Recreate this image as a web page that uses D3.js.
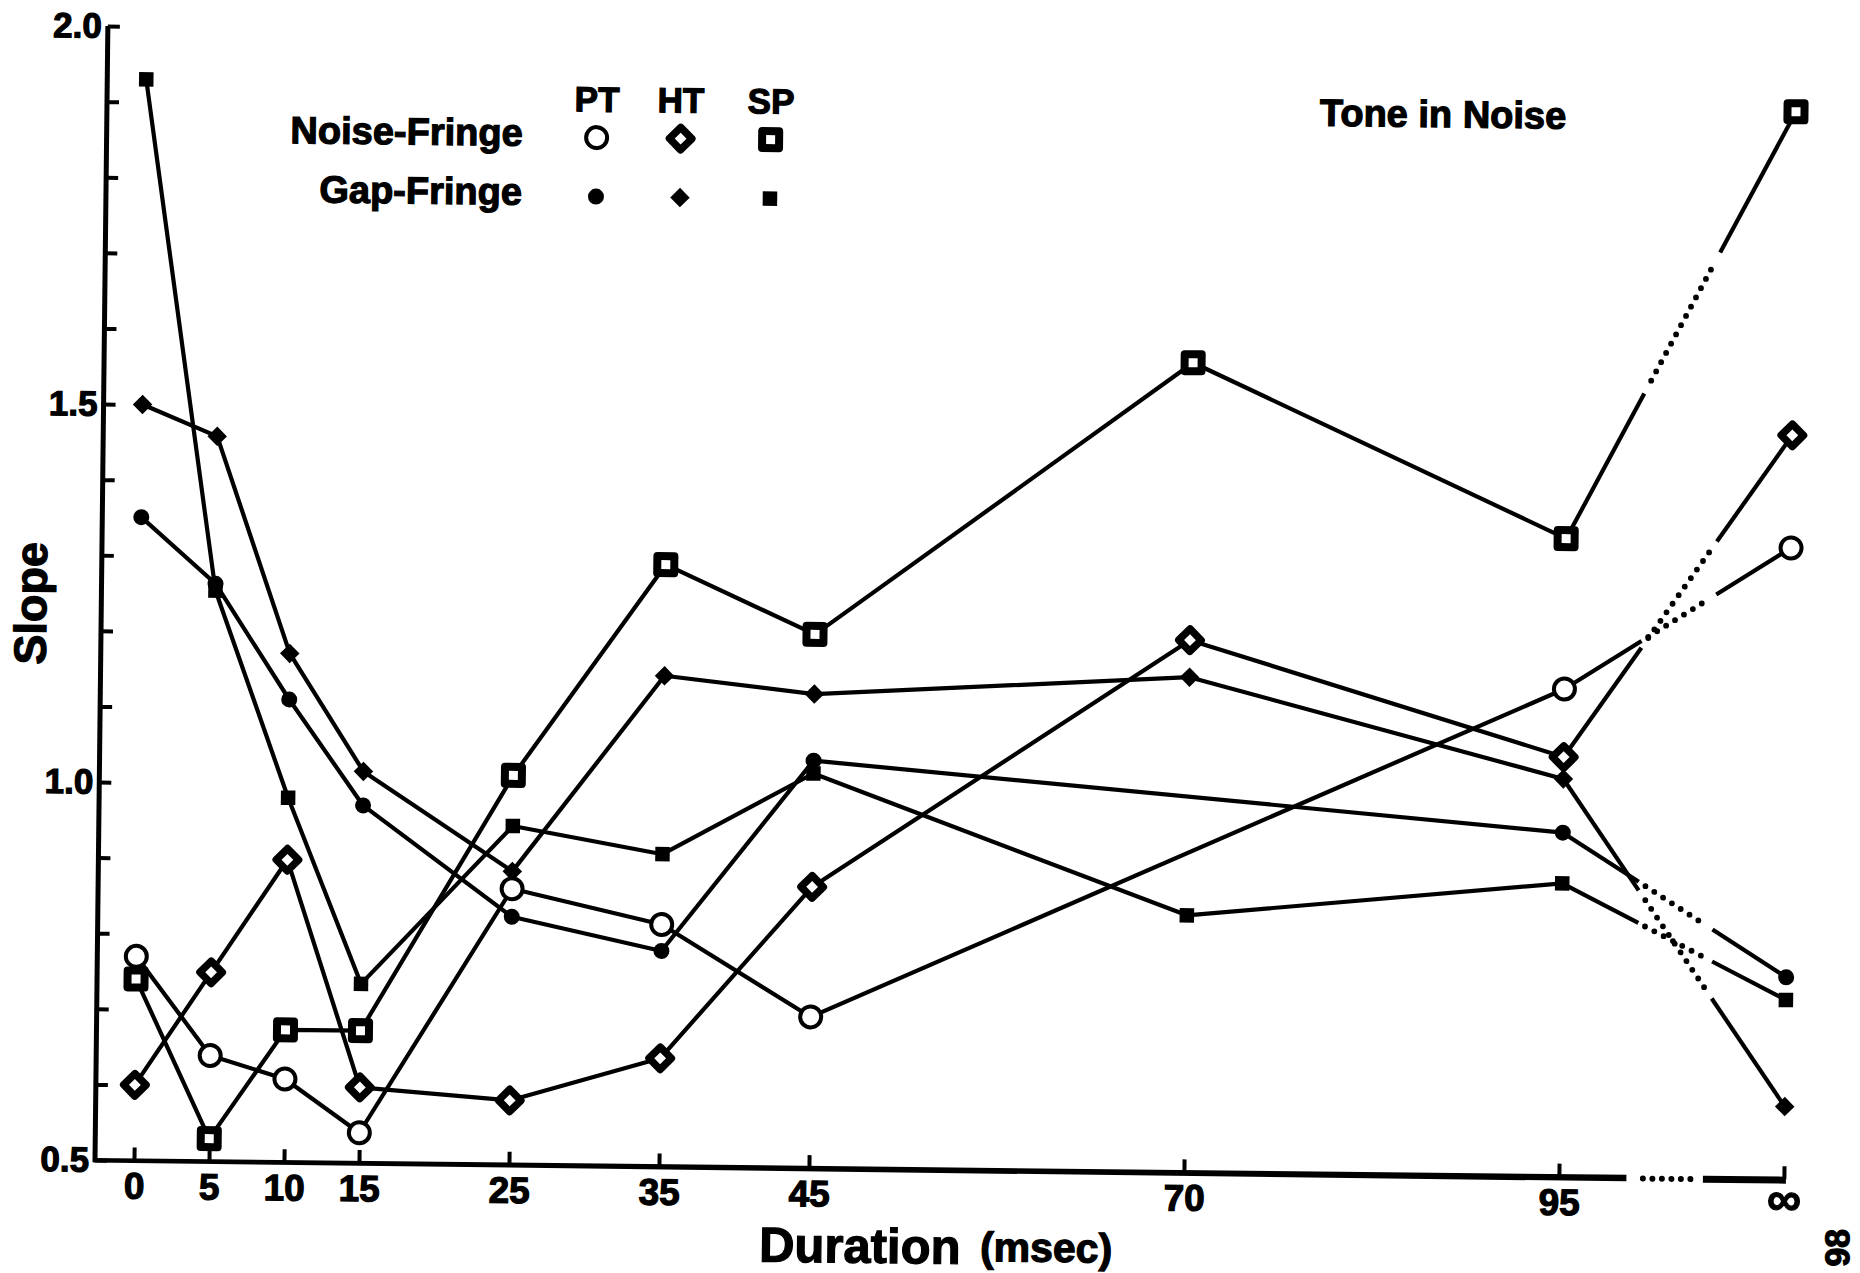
<!DOCTYPE html>
<html>
<head>
<meta charset="utf-8">
<script src="https://cdn.jsdelivr.net/npm/d3@7"></script>
<style>
  html, body { margin: 0; padding: 0; background: #fff; }
  svg { display: block; }
  text { font-family: "Liberation Sans", Arial, Helvetica, sans-serif; font-weight: bold; fill: #000;
         stroke: #000; stroke-width: 1.2px; paint-order: stroke; }
</style>
</head>
<body>
<script>
// Durations (msec); the last one is the unbounded (infinite) duration
const durations = ["0", "5", "10", "15", "25", "35", "45", "70", "95", "∞"];

// Slopes, noise-fringe conditions (open symbols)
const noisePT = [0.77, 0.64, 0.61, 0.54, 0.865, 0.82, 0.70, null, 1.145, 1.335];
const noiseHT = [0.60, 0.75, 0.90, 0.60, 0.585, 0.643, 0.872, 1.204, 1.055, 1.484];
const noiseSP = [0.74, 0.53, 0.675, 0.675, 1.015, 1.296, 1.206, 1.571, 1.344, 1.912];

// Slopes, gap-fringe conditions (filled symbols)
const gapPT = [1.351, 1.264, 1.112, 0.973, 0.828, 0.785, 1.039, null, 0.955, 0.767];
const gapHT = [1.50, 1.459, 1.173, 1.018, 0.888, 1.149, 1.127, 1.155, 1.026, 0.596];
const gapSP = [1.930, 1.255, 0.982, 0.737, 0.948, 0.913, 1.022, 0.840, 0.888, 0.737];

// Axis ticks
const yMinorTicks = [0.5, 0.6, 0.7, 0.8, 0.9, 1.0, 1.1, 1.2, 1.3, 1.4, 1.5, 1.6, 1.7, 1.8, 1.9, 2.0];
const yLabelTicks = [0.5, 1.0, 1.5, 2.0];

// Legend
const legendColumns = ["PT", "HT", "SP"];
const legendRows = ["Noise-Fringe", "Gap-Fringe"];

const W = 1860, H = 1273;
const INF_POS = 110;          // axis position used for the "∞" duration
const TILT = 0.65;            // the whole figure sits slightly askew

const svg = d3.select("body").append("svg").attr("width", W).attr("height", H);
svg.append("rect").attr("width", W).attr("height", H).attr("fill", "#fff");

const ox = 95, oy = 1160;
const g = svg.append("g").attr("transform", `rotate(${TILT},${ox},${oy})`);

const x = d3.scaleLinear().domain([0, INF_POS]).range([134, 134 + 15 * INF_POS]);
const y = d3.scaleLinear().domain([0.5, 2.0]).range([oy, 26]);
const xOf = d => d === "∞" ? INF_POS : +d;

// ---------- Y axis ----------
const yAxisTicks = g.append("g").attr("transform", `translate(${ox},0)`)
  .call(d3.axisRight(y).tickValues(yMinorTicks).tickSize(12).tickSizeOuter(0).tickFormat(""));
yAxisTicks.select(".domain").remove();
yAxisTicks.selectAll(".tick line").attr("stroke", "#000").attr("stroke-width", 4);

const yLabels = g.append("g").attr("transform", `translate(${ox},0)`)
  .call(d3.axisLeft(y).tickValues(yLabelTicks).tickSize(0).tickPadding(6).tickFormat(d3.format(".1f")));
yLabels.select(".domain").remove();
yLabels.selectAll("text").attr("font-size", 35).attr("font-family", null).attr("fill", "#000");

// ---------- X axis ----------
const xNumeric = durations.map(xOf);
const xAxisTicks = g.append("g").attr("transform", `translate(0,${oy})`)
  .call(d3.axisTop(x).tickValues(xNumeric).tickSize(13).tickSizeOuter(0).tickFormat(""));
xAxisTicks.select(".domain").remove();
xAxisTicks.selectAll(".tick line").attr("stroke", "#000").attr("stroke-width", 4);

const xLabels = g.append("g").attr("transform", `translate(0,${oy})`)
  .call(d3.axisBottom(x).tickValues(xNumeric).tickSize(0).tickPadding(12)
        .tickFormat((d, i) => durations[i]));
xLabels.select(".domain").remove();
xLabels.selectAll("text").attr("font-size", 37).attr("font-family", null).attr("fill", "#000");
xLabels.selectAll("text").filter(d => d === INF_POS).attr("font-size", 48).attr("dy", "0.5em");

// axis frame: y-axis down to the corner, x-axis broken before infinity
g.append("line")
  .attr("x1", ox).attr("x2", ox).attr("y1", y(2.0)).attr("y2", oy + 2)
  .attr("stroke", "#000").attr("stroke-width", 5);
// x-axis ink gets heavier toward the right
const xa = x(99.5);
g.append("path")
  .attr("d", `M${ox - 2},${oy - 2} L${xa},${oy - 2.5} L${xa},${oy + 4} L${ox - 2},${oy + 2.5} Z`)
  .attr("fill", "#000");
g.append("line")
  .attr("x1", x(104.6)).attr("x2", x(110) + 2).attr("y1", oy + 1).attr("y2", oy + 1)
  .attr("stroke", "#000").attr("stroke-width", 7);
g.append("line")
  .attr("x1", x(100.6)).attr("x2", x(104.3)).attr("y1", oy + 1).attr("y2", oy + 1)
  .attr("stroke", "#000").attr("stroke-width", 6)
  .attr("stroke-dasharray", "0 9.5").attr("stroke-linecap", "round");

// ---------- Axis titles ----------
g.append("text").attr("transform", "translate(40,604) rotate(-90)")
  .attr("text-anchor", "middle").attr("font-size", 45).text("Slope");
g.append("text").attr("x", 760).attr("y", 1254).attr("font-size", 49).text("Duration");
g.append("text").attr("x", 981).attr("y", 1251).attr("font-size", 41).text("(msec)");

g.append("text").attr("x", 1308).attr("y", 112).attr("font-size", 38).text("Tone in Noise");

g.append("text").attr("transform", "translate(1838,1228) rotate(-90)")
  .attr("text-anchor", "middle").attr("dominant-baseline", "central")
  .attr("font-size", 34).text("98");

// ---------- Markers ----------
const markerStyles = {
  openCircle:    { type: d3.symbolCircle, size: Math.PI * 10.5 * 10.5, fill: "#fff", stroke: 4, rot: 0 },
  openDiamond:   { type: d3.symbolSquare, size: 250, fill: "#fff", stroke: 7.5, rot: 45 },
  openSquare:    { type: d3.symbolSquare, size: 289, fill: "#fff", stroke: 8, rot: 0 },
  filledCircle:  { type: d3.symbolCircle, size: Math.PI * 8 * 8, fill: "#000", stroke: 0, rot: 0 },
  filledDiamond: { type: d3.symbolSquare, size: 190, fill: "#000", stroke: 0, rot: 45 },
  filledSquare:  { type: d3.symbolSquare, size: 210, fill: "#000", stroke: 0, rot: 0 }
};

function drawMarker(sel, kind, cx, cy) {
  const m = markerStyles[kind];
  sel.append("path")
    .attr("d", d3.symbol().type(m.type).size(m.size)())
    .attr("transform", `translate(${cx},${cy}) rotate(${m.rot})`)
    .attr("fill", m.fill)
    .attr("stroke", "#000")
    .attr("stroke-width", m.stroke)
    .attr("stroke-linejoin", "round");
}

// ---------- Series ----------
const series = [
  { values: gapSP,   marker: "filledSquare" },
  { values: gapPT,   marker: "filledCircle" },
  { values: gapHT,   marker: "filledDiamond" },
  { values: noisePT, marker: "openCircle" },
  { values: noiseHT, marker: "openDiamond" },
  { values: noiseSP, marker: "openSquare" }
];

const LW = 4.2;
const line = d3.line().x(d => x(d.xv)).y(d => y(d.v));
const linesG = g.append("g");
const marksG = g.append("g");

series.forEach(s => {
  const pts = durations.map((d, i) => ({ xv: xOf(d), v: s.values[i] }))
                       .filter(p => p.v !== null);
  const finite = pts.filter(p => p.xv < INF_POS);
  const a = finite[finite.length - 1];
  const b = pts[pts.length - 1];
  const at = t => ({ xv: a.xv + (b.xv - a.xv) * t, v: a.v + (b.v - a.v) * t });

  linesG.append("path").attr("d", line(finite))
    .attr("fill", "none").attr("stroke", "#000").attr("stroke-width", LW).attr("stroke-linejoin", "round");
  // bridge to the infinite duration: solid, dotted, solid
  linesG.append("path").attr("d", line([a, at(0.34)]))
    .attr("fill", "none").attr("stroke", "#000").attr("stroke-width", LW);
  linesG.append("path").attr("d", line([at(0.37), at(0.64)]))
    .attr("fill", "none").attr("stroke", "#000").attr("stroke-width", 5.8)
    .attr("stroke-linecap", "round").attr("stroke-dasharray", "0 10.5");
  linesG.append("path").attr("d", line([at(0.67), b]))
    .attr("fill", "none").attr("stroke", "#000").attr("stroke-width", LW);

  pts.forEach(p => drawMarker(marksG, s.marker, x(p.xv), y(p.v)));
});

// ---------- Legend ----------
const legendG = g.append("g");
const colX = [585, 669, 759];
const rowY = [132, 191];
legendG.selectAll("text.col").data(legendColumns).join("text")
  .attr("class", "col")
  .attr("x", (d, i) => colX[i]).attr("y", 106)
  .attr("text-anchor", "middle").attr("font-size", 35).text(d => d);
legendG.selectAll("text.row").data(legendRows).join("text")
  .attr("class", "row")
  .attr("x", 511).attr("y", (d, i) => rowY[i] + 9)
  .attr("text-anchor", "end").attr("font-size", 38).text(d => d);
const legendMarkers = [
  ["openCircle", "openDiamond", "openSquare"],
  ["filledCircle", "filledDiamond", "filledSquare"]
];
legendMarkers.forEach((row, r) => row.forEach((kind, c) => drawMarker(legendG, kind, colX[c], rowY[r])));
</script>
</body>
</html>
